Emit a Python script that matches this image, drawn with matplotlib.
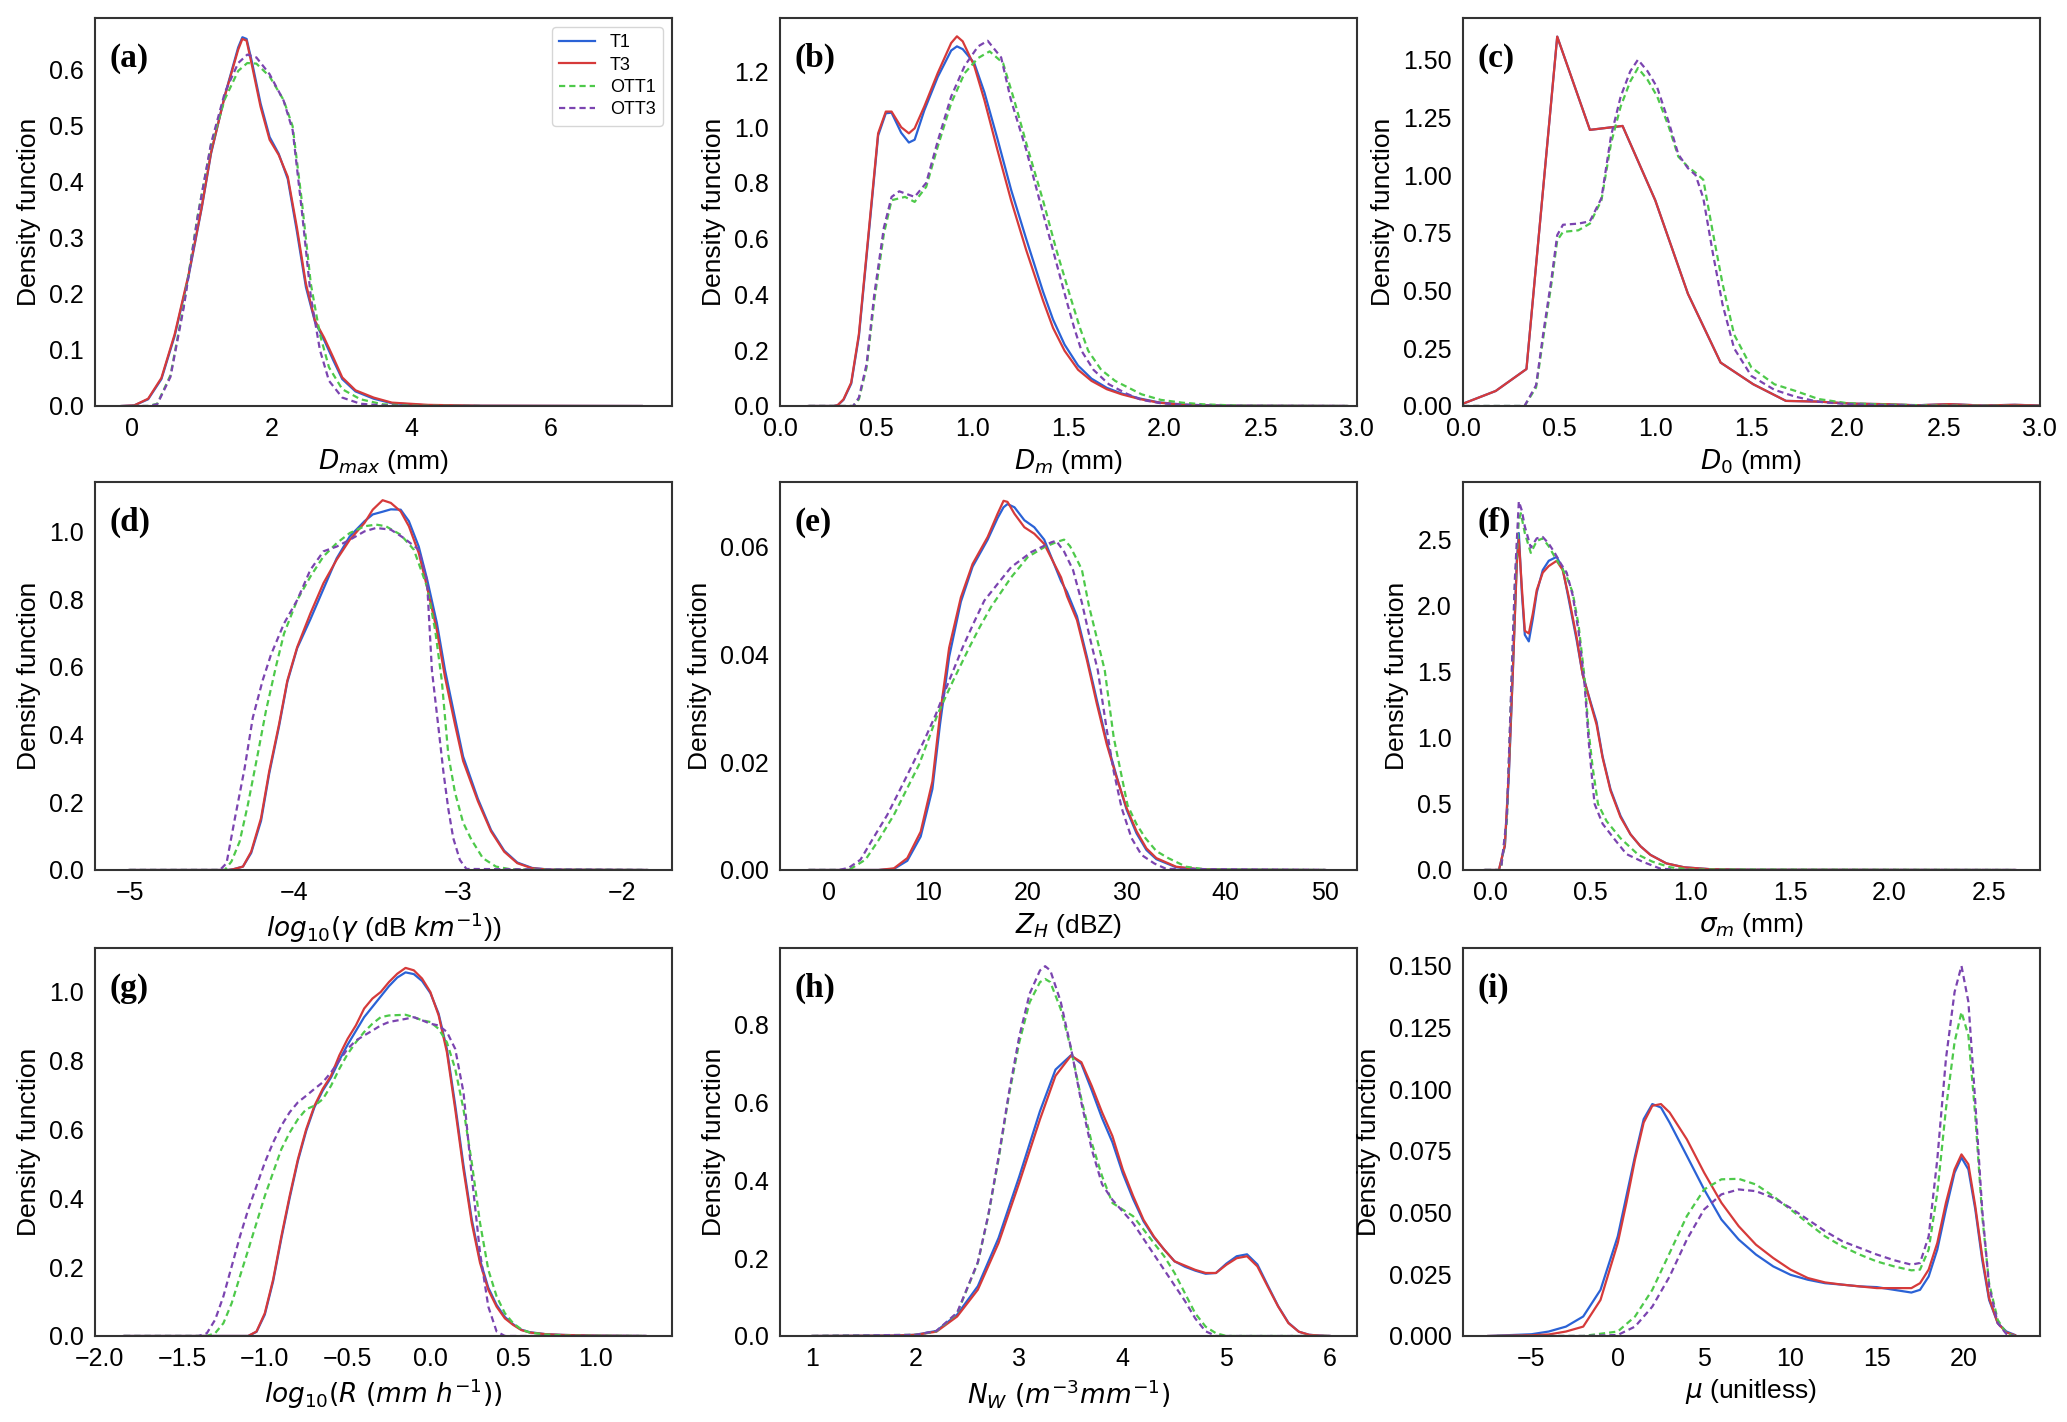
import matplotlib

matplotlib.use("Agg")  # no display here
import matplotlib.pyplot as plt

# ---- (a) Dmax ----
a_t_x = [-0.15, 0.03, 0.23, 0.42, 0.61, 0.81, 1.00, 1.13, 1.33, 1.52, 1.58, 1.64, 1.72, 1.84, 1.97, 2.10,
         2.23, 2.36, 2.49, 2.62, 2.75, 2.88, 3.01, 3.20, 3.46, 3.72, 4.24, 5.0, 7.3]
a_t1_y = [0.0, 0.001, 0.012, 0.048, 0.125, 0.232, 0.355, 0.450, 0.555, 0.640, 0.658, 0.655, 0.612, 0.540,
          0.480, 0.450, 0.405, 0.312, 0.212, 0.150, 0.118, 0.082, 0.048, 0.026, 0.013, 0.005, 0.001, 0.0004, 0.0]
a_t3_y = [0.0, 0.001, 0.013, 0.050, 0.128, 0.235, 0.357, 0.452, 0.554, 0.636, 0.655, 0.652, 0.606, 0.534,
          0.475, 0.448, 0.409, 0.319, 0.218, 0.152, 0.122, 0.087, 0.051, 0.028, 0.015, 0.006, 0.002, 0.0005, 0.0]
a_o_x = [0.0, 0.23, 0.36, 0.55, 0.74, 0.94, 1.13, 1.33, 1.52, 1.65, 1.78, 1.97, 2.17, 2.30, 2.43, 2.56, 2.69,
         2.82, 3.01, 3.27, 3.59, 4.0, 5.0]
a_ott1_y = [0.0, 0.0, 0.004, 0.055, 0.180, 0.340, 0.465, 0.548, 0.598, 0.612, 0.611, 0.588, 0.546, 0.499,
            0.367, 0.218, 0.128, 0.069, 0.030, 0.012, 0.003, 0.0005, 0.0]
a_ott3_y = [0.0, 0.0, 0.003, 0.052, 0.176, 0.338, 0.468, 0.560, 0.612, 0.627, 0.622, 0.592, 0.545, 0.492,
            0.350, 0.195, 0.100, 0.045, 0.015, 0.004, 0.001, 0.0, 0.0]

# ---- (b) Dm ----
b_t_x = [0.15, 0.28, 0.30, 0.33, 0.37, 0.41, 0.47, 0.51, 0.55, 0.58, 0.63, 0.67, 0.70, 0.75, 0.82, 0.89,
         0.92, 0.95, 1.01, 1.063, 1.13, 1.202, 1.28, 1.368, 1.42, 1.48, 1.55, 1.62, 1.70, 1.776, 1.87, 1.97,
         2.1, 2.3, 2.95]
b_t3_y = [0.0, 0.0, 0.003, 0.024, 0.084, 0.258, 0.69, 0.978, 1.056, 1.056, 1.0, 0.978, 0.996, 1.074, 1.194,
          1.302, 1.326, 1.308, 1.22, 1.097, 0.92, 0.737, 0.56, 0.378, 0.28, 0.198, 0.13, 0.09, 0.06, 0.042,
          0.025, 0.012, 0.004, 0.001, 0.0]
b_t1_y = [0.0, 0.0, 0.003, 0.022, 0.080, 0.250, 0.68, 0.97, 1.05, 1.052, 0.98, 0.945, 0.955, 1.06, 1.18,
          1.275, 1.29, 1.28, 1.23, 1.125, 0.96, 0.775, 0.60, 0.41, 0.31, 0.22, 0.145, 0.098, 0.065, 0.045,
          0.027, 0.013, 0.005, 0.001, 0.0]
b_ott1_x = [0.15, 0.38, 0.41, 0.45, 0.49, 0.54, 0.58, 0.65, 0.70, 0.76, 0.82, 0.89, 0.96, 1.03, 1.09, 1.16,
            1.218, 1.29, 1.368, 1.438, 1.516, 1.56, 1.603, 1.67, 1.743, 1.88, 1.98, 2.09, 2.2, 2.4, 2.95]
b_ott1_y = [0.0, 0.0, 0.024, 0.138, 0.378, 0.618, 0.738, 0.750, 0.732, 0.786, 0.93, 1.086, 1.194, 1.248,
            1.272, 1.23, 1.097, 0.92, 0.737, 0.558, 0.378, 0.28, 0.198, 0.13, 0.09, 0.042, 0.022, 0.012,
            0.006, 0.001, 0.0]
b_ott3_x = [0.15, 0.38, 0.41, 0.45, 0.49, 0.54, 0.58, 0.62, 0.70, 0.76, 0.82, 0.89, 0.96, 1.03, 1.08, 1.15,
            1.20, 1.28, 1.35, 1.42, 1.49, 1.53, 1.568, 1.63, 1.71, 1.80, 1.88, 1.98, 2.1, 2.3, 2.95]
b_ott3_y = [0.0, 0.0, 0.03, 0.15, 0.40, 0.64, 0.75, 0.77, 0.75, 0.80, 0.95, 1.11, 1.22, 1.29, 1.31, 1.25,
            1.10, 0.92, 0.737, 0.558, 0.378, 0.28, 0.198, 0.13, 0.078, 0.045, 0.022, 0.01, 0.004, 0.001, 0.0]

# ---- (c) D0 ----
c_t_x = [0.0, 0.17, 0.33, 0.49, 0.66, 0.83, 1.00, 1.17, 1.34, 1.51, 1.68, 1.85, 2.02, 2.19, 2.36, 2.53,
         2.70, 2.87, 3.0]
c_t1_y = [0.01, 0.065, 0.16, 1.60, 1.196, 1.213, 0.891, 0.486, 0.188, 0.094, 0.022, 0.019, 0.010, 0.008,
          0.003, 0.008, 0.002, 0.005, 0.002]
c_t3_y = [0.01, 0.065, 0.16, 1.60, 1.196, 1.213, 0.891, 0.486, 0.188, 0.094, 0.022, 0.019, 0.010, 0.008,
          0.003, 0.008, 0.002, 0.005, 0.002]
c_o_x = [0.0, 0.32, 0.38, 0.42, 0.46, 0.49, 0.52, 0.60, 0.66, 0.72, 0.77, 0.82, 0.87, 0.91, 0.96, 1.01,
         1.07, 1.12, 1.17, 1.21, 1.25, 1.30, 1.35, 1.41, 1.50, 1.62, 1.73, 1.85, 2.0, 2.2, 2.5, 3.0]
c_ott1_y = [0.0, 0.0, 0.08, 0.31, 0.53, 0.717, 0.754, 0.761, 0.79, 0.891, 1.138, 1.297, 1.406, 1.464, 1.413,
            1.341, 1.21, 1.08, 1.036, 1.01, 0.98, 0.75, 0.53, 0.31, 0.167, 0.094, 0.065, 0.03, 0.012, 0.006,
            0.002, 0.0]
c_ott3_y = [0.0, 0.0, 0.09, 0.33, 0.55, 0.74, 0.785, 0.79, 0.80, 0.90, 1.17, 1.34, 1.45, 1.50, 1.45, 1.38,
            1.23, 1.09, 1.03, 1.00, 0.90, 0.66, 0.44, 0.25, 0.13, 0.07, 0.04, 0.018, 0.008, 0.004, 0.001, 0.0]

# ---- (d) log10(gamma) ----
d_t_x = [-5.0, -4.40, -4.37, -4.31, -4.26, -4.20, -4.15, -4.09, -4.04, -3.98, -3.90, -3.82, -3.74, -3.66,
         -3.57, -3.52, -3.46, -3.41, -3.35, -3.30, -3.24, -3.19, -3.13, -3.08, -3.02, -2.97, -2.88, -2.80,
         -2.72, -2.64, -2.55, -2.44, -1.85]
d_t1_y = [0.0, 0.0, 0.002, 0.01, 0.05, 0.145, 0.285, 0.425, 0.555, 0.655, 0.74, 0.83, 0.92, 0.985, 1.03,
          1.05, 1.058, 1.065, 1.064, 1.03, 0.955, 0.86, 0.73, 0.59, 0.45, 0.335, 0.21, 0.118, 0.057, 0.022,
          0.006, 0.001, 0.0]
d_t3_y = [0.0, 0.0, 0.002, 0.01, 0.054, 0.153, 0.292, 0.431, 0.559, 0.658, 0.757, 0.847, 0.916, 0.975,
          1.025, 1.064, 1.092, 1.084, 1.059, 1.015, 0.936, 0.837, 0.708, 0.569, 0.431, 0.322, 0.203, 0.114,
          0.054, 0.02, 0.005, 0.001, 0.0]
d_ott1_x = [-5.0, -4.42, -4.38, -4.33, -4.28, -4.22, -4.17, -4.11, -4.06, -3.98, -3.90, -3.82, -3.74, -3.66,
            -3.57, -3.50, -3.44, -3.35, -3.27, -3.19, -3.14, -3.10, -3.06, -3.02, -2.97, -2.92, -2.85, -2.77,
            -2.68, -1.85]
d_ott1_y = [0.0, 0.0, 0.025, 0.084, 0.193, 0.342, 0.47, 0.599, 0.698, 0.797, 0.866, 0.926, 0.965, 0.995,
            1.015, 1.02, 1.015, 0.99, 0.946, 0.837, 0.708, 0.56, 0.34, 0.23, 0.14, 0.09, 0.035, 0.01, 0.002, 0.0]
d_ott3_x = [-5.0, -4.45, -4.41, -4.36, -4.30, -4.25, -4.19, -4.14, -4.06, -3.98, -3.90, -3.82, -3.74, -3.66,
            -3.57, -3.50, -3.41, -3.33, -3.24, -3.19, -3.16, -3.12, -3.09, -3.06, -3.03, -2.99, -2.95, -1.85]
d_ott3_y = [0.0, 0.0, 0.02, 0.15, 0.30, 0.45, 0.56, 0.635, 0.728, 0.797, 0.886, 0.941, 0.955, 0.975, 1.0,
            1.01, 1.005, 0.98, 0.946, 0.856, 0.59, 0.42, 0.29, 0.18, 0.094, 0.03, 0.003, 0.0]

# ---- (e) ZH ----
e_t_x = [-2, 5, 6.55, 7.9, 9.25, 10.43, 11.2, 12.12, 13.3, 14.48, 16.0, 17.0, 17.6, 18.0, 18.7, 19.7, 20.7,
         21.7, 23.4, 24, 25, 26, 27, 28, 29, 30, 31, 32, 33, 35, 37, 40, 50]
e_t1_y = [0, 0, 0.0002, 0.0017, 0.0062, 0.015, 0.027, 0.0395, 0.0497, 0.0562, 0.0612, 0.0652, 0.0672,
          0.0678, 0.0672, 0.0648, 0.0635, 0.0612, 0.0535, 0.0515, 0.047, 0.0395, 0.0315, 0.0238, 0.0173,
          0.0112, 0.0068, 0.0037, 0.002, 0.0005, 0.0002, 0.00005, 0]
e_t3_y = [0, 0, 0.0003, 0.0022, 0.0071, 0.0164, 0.0288, 0.0412, 0.0505, 0.0567, 0.0617, 0.066, 0.0684,
          0.0682, 0.066, 0.0635, 0.0623, 0.0604, 0.0542, 0.0507, 0.0463, 0.0389, 0.0308, 0.0233, 0.0171,
          0.0115, 0.0072, 0.004, 0.0022, 0.0006, 0.0002, 0.00005, 0]
e_ott1_x = [-2, 2.0, 3.68, 5.0, 6.55, 7.8, 9.08, 10.0, 10.94, 12.5, 14.14, 15.2, 16.33, 18.36, 20.05, 21.7,
            23.0, 23.7, 24.3, 25, 25.5, 26.2, 27, 27.8, 28.7, 29.4, 30.1, 31, 31.9, 33, 34.2, 36, 38, 50]
e_ott1_y = [0, 0, 0.0019, 0.0055, 0.0102, 0.0148, 0.0195, 0.024, 0.0288, 0.035, 0.0412, 0.045, 0.0487,
            0.0542, 0.058, 0.0598, 0.0608, 0.0612, 0.060, 0.0575, 0.0556, 0.049, 0.043, 0.037, 0.0246,
            0.0183, 0.012, 0.0085, 0.0059, 0.0035, 0.0022, 0.0006, 0.0001, 0]
e_ott3_x = [-2, 1, 2.0, 3.18, 4.5, 5.88, 7.2, 8.41, 9.6, 10.77, 12.1, 13.47, 14.6, 15.66, 17.0, 18.36, 20.4,
            22.4, 22.9, 23.7, 24.6, 25.5, 26.3, 27.1, 28.0, 28.7, 29.5, 30.5, 31.5, 32.8, 34, 50]
e_ott3_y = [0, 0, 0.0004, 0.0019, 0.006, 0.0102, 0.015, 0.0195, 0.024, 0.0288, 0.035, 0.0412, 0.0458,
            0.0499, 0.053, 0.0561, 0.0589, 0.0607, 0.061, 0.059, 0.0556, 0.0495, 0.043, 0.037, 0.026, 0.0183,
            0.0115, 0.0059, 0.0028, 0.0012, 0.0002, 0]

# ---- (f) sigma_m ----
f_t_x = [-0.03, 0.04, 0.07, 0.09, 0.11, 0.13, 0.14, 0.155, 0.17, 0.19, 0.21, 0.23, 0.26, 0.29, 0.33, 0.36,
         0.39, 0.43, 0.46, 0.50, 0.53, 0.56, 0.60, 0.65, 0.70, 0.75, 0.80, 0.88, 0.97, 1.1, 1.3, 2.63]
f_t1_y = [0, 0, 0.18, 0.72, 1.50, 2.35, 2.55, 2.10, 1.78, 1.73, 1.90, 2.10, 2.27, 2.34, 2.37, 2.28, 2.05,
          1.74, 1.48, 1.27, 1.12, 0.86, 0.61, 0.41, 0.27, 0.18, 0.115, 0.05, 0.02, 0.006, 0.002, 0]
f_t3_y = [0, 0, 0.19, 0.75, 1.51, 2.32, 2.50, 2.14, 1.81, 1.79, 1.94, 2.12, 2.25, 2.30, 2.34, 2.27, 2.07,
          1.76, 1.48, 1.26, 1.10, 0.85, 0.60, 0.40, 0.27, 0.18, 0.114, 0.05, 0.02, 0.006, 0.002, 0]
f_ott1_x = [-0.03, 0.05, 0.08, 0.10, 0.12, 0.14, 0.15, 0.17, 0.20, 0.23, 0.26, 0.29, 0.32, 0.35, 0.38, 0.41,
            0.44, 0.47, 0.49, 0.51, 0.537, 0.58, 0.65, 0.74, 0.81, 0.90, 1.0, 2.63]
f_ott1_y = [0, 0, 0.37, 1.26, 2.14, 2.65, 2.70, 2.55, 2.40, 2.49, 2.51, 2.45, 2.37, 2.30, 2.22, 2.10, 1.85,
            1.45, 1.05, 0.78, 0.50, 0.37, 0.24, 0.114, 0.063, 0.02, 0.004, 0]
f_ott3_x = [-0.03, 0.05, 0.08, 0.10, 0.12, 0.14, 0.155, 0.17, 0.20, 0.23, 0.26, 0.29, 0.32, 0.35, 0.38, 0.41,
            0.44, 0.47, 0.49, 0.51, 0.52, 0.56, 0.616, 0.68, 0.76, 0.85, 0.95, 2.63]
f_ott3_y = [0, 0, 0.40, 1.30, 2.20, 2.79, 2.72, 2.60, 2.44, 2.51, 2.52, 2.47, 2.40, 2.32, 2.25, 2.08, 1.80,
            1.40, 0.98, 0.65, 0.50, 0.35, 0.24, 0.12, 0.063, 0.01, 0.0, 0]

# ---- (g) log10(R) ----
g_t_x = [-1.85, -1.10, -1.05, -1.00, -0.95, -0.90, -0.85, -0.80, -0.75, -0.70, -0.65, -0.60, -0.55, -0.50,
         -0.45, -0.40, -0.35, -0.30, -0.25, -0.20, -0.15, -0.10, -0.05, 0.0, 0.05, 0.10, 0.15, 0.20, 0.25,
         0.30, 0.35, 0.40, 0.45, 0.50, 0.55, 0.60, 0.70, 0.80, 1.0, 1.3]
g_t1_y = [0.0, 0.0, 0.012, 0.062, 0.158, 0.283, 0.400, 0.508, 0.595, 0.664, 0.712, 0.750, 0.800, 0.845,
          0.885, 0.925, 0.955, 0.985, 1.015, 1.040, 1.055, 1.050, 1.030, 0.995, 0.935, 0.832, 0.670, 0.495,
          0.338, 0.220, 0.140, 0.090, 0.055, 0.034, 0.018, 0.011, 0.005, 0.003, 0.001, 0.0]
g_t3_y = [0.0, 0.0, 0.013, 0.066, 0.163, 0.289, 0.406, 0.513, 0.600, 0.668, 0.717, 0.755, 0.814, 0.862,
          0.901, 0.950, 0.979, 0.998, 1.027, 1.051, 1.068, 1.061, 1.037, 0.998, 0.930, 0.823, 0.658, 0.483,
          0.328, 0.212, 0.134, 0.085, 0.051, 0.032, 0.017, 0.010, 0.005, 0.003, 0.001, 0.0]
g_o_x = [-1.85, -1.40, -1.35, -1.30, -1.25, -1.20, -1.15, -1.10, -1.05, -1.00, -0.95, -0.90, -0.85, -0.80,
         -0.75, -0.70, -0.65, -0.60, -0.55, -0.50, -0.45, -0.40, -0.35, -0.30, -0.25, -0.15, -0.10, -0.05,
         0.0, 0.05, 0.10, 0.15, 0.20, 0.25, 0.30, 0.35, 0.40, 0.45, 0.50, 0.55, 0.60, 0.70, 0.85, 1.3]
g_ott1_y = [0.0, 0.0, 0.0, 0.008, 0.037, 0.095, 0.173, 0.250, 0.328, 0.406, 0.474, 0.542, 0.590, 0.629,
            0.658, 0.668, 0.687, 0.726, 0.775, 0.818, 0.852, 0.882, 0.906, 0.925, 0.930, 0.932, 0.925, 0.916,
            0.911, 0.891, 0.852, 0.775, 0.658, 0.503, 0.328, 0.192, 0.115, 0.066, 0.037, 0.019, 0.010, 0.004,
            0.001, 0.0]
g_ott3_y = [0.0, 0.0, 0.008, 0.047, 0.115, 0.202, 0.289, 0.367, 0.435, 0.503, 0.561, 0.610, 0.649, 0.678,
            0.697, 0.717, 0.736, 0.765, 0.799, 0.833, 0.857, 0.872, 0.886, 0.901, 0.911, 0.920, 0.925, 0.916,
            0.906, 0.901, 0.882, 0.833, 0.707, 0.464, 0.241, 0.085, 0.013, 0.0, 0.0, 0.0, 0.0, 0.0, 0.0, 0.0]

# ---- (h) Nw ----
h_t_x = [1.0, 1.8, 2.0, 2.2, 2.4, 2.6, 2.8, 3.0, 3.2, 3.35, 3.5, 3.6, 3.7, 3.8, 3.9, 4.0, 4.1, 4.2, 4.3, 4.4,
         4.5, 4.6, 4.7, 4.8, 4.9, 5.0, 5.1, 5.2, 5.3, 5.4, 5.5, 5.6, 5.7, 5.8, 5.9, 6.0]
h_t1_y = [0.0, 0.001, 0.003, 0.013, 0.055, 0.128, 0.252, 0.410, 0.578, 0.685, 0.722, 0.700, 0.632, 0.560,
          0.498, 0.418, 0.352, 0.295, 0.254, 0.222, 0.192, 0.178, 0.168, 0.160, 0.162, 0.186, 0.205, 0.210,
          0.184, 0.130, 0.077, 0.034, 0.011, 0.003, 0.001, 0.0]
h_t3_y = [0.0, 0.001, 0.003, 0.011, 0.050, 0.119, 0.239, 0.394, 0.557, 0.669, 0.721, 0.704, 0.643, 0.575,
          0.514, 0.428, 0.360, 0.299, 0.256, 0.222, 0.192, 0.181, 0.170, 0.162, 0.162, 0.183, 0.200, 0.205,
          0.179, 0.127, 0.076, 0.033, 0.011, 0.003, 0.001, 0.0]
h_o_x = [1.0, 2.0, 2.2, 2.4, 2.6, 2.7, 2.8, 2.9, 3.0, 3.1, 3.2, 3.25, 3.3, 3.4, 3.5, 3.6, 3.7, 3.8, 3.9, 4.0,
         4.1, 4.2, 4.3, 4.4, 4.5, 4.6, 4.7, 4.8, 4.9, 5.0, 6.0]
h_ott1_y = [0.0, 0.003, 0.012, 0.058, 0.188, 0.308, 0.454, 0.618, 0.755, 0.858, 0.910, 0.918, 0.910, 0.841,
            0.738, 0.609, 0.497, 0.411, 0.342, 0.325, 0.308, 0.274, 0.239, 0.205, 0.162, 0.110, 0.058, 0.024,
            0.007, 0.0, 0.0]
h_ott3_y = [0.0, 0.003, 0.013, 0.060, 0.190, 0.310, 0.460, 0.625, 0.770, 0.880, 0.940, 0.951, 0.940, 0.860,
            0.740, 0.600, 0.480, 0.390, 0.350, 0.320, 0.290, 0.250, 0.210, 0.170, 0.130, 0.090, 0.045, 0.012,
            0.0, 0.0, 0.0]

# ---- (i) mu ----
i_t_x = [-7.5, -5, -4, -3, -2, -1, 0, 0.5, 1, 1.5, 2, 2.5, 3, 4, 5, 6, 7, 8, 9, 10, 11, 12, 13, 14, 15, 16,
         17, 17.5, 18, 18.5, 19, 19.5, 19.9, 20.3, 20.7, 21.1, 21.5, 22, 22.5, 23]
i_t1_y = [0.0, 0.0007, 0.0018, 0.0038, 0.0079, 0.0187, 0.0404, 0.0567, 0.073, 0.0879, 0.094, 0.0926,
          0.0865, 0.073, 0.0594, 0.0472, 0.0391, 0.033, 0.0282, 0.0248, 0.0228, 0.0214, 0.0208, 0.0201,
          0.0198, 0.0187, 0.0176, 0.0187, 0.0241, 0.035, 0.0513, 0.0662, 0.0723, 0.0675, 0.0513, 0.0309,
          0.0146, 0.0052, 0.0018, 0.0004]
i_t3_y = [0.0, 0.0003, 0.0006, 0.0018, 0.0038, 0.0146, 0.0377, 0.054, 0.0716, 0.0865, 0.0933, 0.094,
          0.0906, 0.0797, 0.0662, 0.054, 0.0445, 0.037, 0.0316, 0.0269, 0.0235, 0.0217, 0.0208, 0.0201,
          0.0194, 0.0194, 0.0194, 0.0214, 0.0269, 0.0377, 0.054, 0.0675, 0.0736, 0.0696, 0.0526, 0.0323,
          0.0153, 0.0052, 0.0014, 0.0003]
i_o_x = [-7, -2, 0, 1, 2, 3, 4, 5, 6, 7, 8, 9, 10, 11, 12, 13, 14, 15, 16, 17, 17.5, 18, 18.5, 19, 19.5,
         19.9, 20.3, 20.7, 21.1, 21.5, 22, 22.5, 23]
i_ott1_y = [0.0, 0.0, 0.0018, 0.0079, 0.0187, 0.0336, 0.0486, 0.0594, 0.0635, 0.0637, 0.0614, 0.0567,
            0.0513, 0.0458, 0.0404, 0.0363, 0.033, 0.0302, 0.0282, 0.0266, 0.0269, 0.035, 0.058, 0.092,
            0.1191, 0.1313, 0.1218, 0.0892, 0.0486, 0.0214, 0.0065, 0.0011, 0.0]
i_ott3_y = [0.0, 0.0, 0.0004, 0.0038, 0.0119, 0.0241, 0.0391, 0.0513, 0.0574, 0.0594, 0.0587, 0.056,
            0.0519, 0.0472, 0.0425, 0.0384, 0.0357, 0.033, 0.0307, 0.0289, 0.0296, 0.0404, 0.0716, 0.1123,
            0.1394, 0.150, 0.1354, 0.0947, 0.0513, 0.0201, 0.0052, 0.0008, 0.0]

labels = ["T1", "T3", "OTT1", "OTT3"]
colors = ["#2a62d6", "#d63a3a", "#4ec94a", "#7b44b0"]
styles = ["-", "-", "--", "--"]

panels = [
    ("(a)", [(a_t_x, a_t1_y), (a_t_x, a_t3_y), (a_o_x, a_ott1_y), (a_o_x, a_ott3_y)],
     (-0.53, 7.73), 0.6925, [0, 2, 4, 6], [0, 0.1, 0.2, 0.3, 0.4, 0.5, 0.6], r"$D_{max}$ (mm)"),
    ("(b)", [(b_t_x, b_t1_y), (b_t_x, b_t3_y), (b_ott1_x, b_ott1_y), (b_ott3_x, b_ott3_y)],
     (0, 3), 1.392, [0, 0.5, 1.0, 1.5, 2.0, 2.5, 3.0], [0, 0.2, 0.4, 0.6, 0.8, 1.0, 1.2], r"$D_m$ (mm)"),
    ("(c)", [(c_t_x, c_t1_y), (c_t_x, c_t3_y), (c_o_x, c_ott1_y), (c_o_x, c_ott3_y)],
     (0, 3), 1.681, [0, 0.5, 1.0, 1.5, 2.0, 2.5, 3.0], [0, 0.25, 0.5, 0.75, 1.0, 1.25, 1.5], r"$D_0$ (mm)"),
    ("(d)", [(d_t_x, d_t1_y), (d_t_x, d_t3_y), (d_ott1_x, d_ott1_y), (d_ott3_x, d_ott3_y)],
     (-5.21, -1.70), 1.146, [-5, -4, -3, -2], [0, 0.2, 0.4, 0.6, 0.8, 1.0],
     r"$log_{10}(\gamma\ $(dB $km^{-1}$))"),
    ("(e)", [(e_t_x, e_t1_y), (e_t_x, e_t3_y), (e_ott1_x, e_ott1_y), (e_ott3_x, e_ott3_y)],
     (-4.92, 53.2), 0.0719, [0, 10, 20, 30, 40, 50], [0, 0.02, 0.04, 0.06], r"$Z_H$ (dBZ)"),
    ("(f)", [(f_t_x, f_t1_y), (f_t_x, f_t3_y), (f_ott1_x, f_ott1_y), (f_ott3_x, f_ott3_y)],
     (-0.14, 2.753), 2.937, [0, 0.5, 1.0, 1.5, 2.0, 2.5], [0, 0.5, 1.0, 1.5, 2.0, 2.5], r"$\sigma_m$ (mm)"),
    ("(g)", [(g_t_x, g_t1_y), (g_t_x, g_t3_y), (g_o_x, g_ott1_y), (g_o_x, g_ott3_y)],
     (-2.025, 1.458), 1.126, [-2.0, -1.5, -1.0, -0.5, 0.0, 0.5, 1.0], [0, 0.2, 0.4, 0.6, 0.8, 1.0],
     r"$log_{10}(R\ (mm\ h^{-1}))$"),
    ("(h)", [(h_t_x, h_t1_y), (h_t_x, h_t3_y), (h_o_x, h_ott1_y), (h_o_x, h_ott3_y)],
     (0.69, 6.26), 0.998, [1, 2, 3, 4, 5, 6], [0, 0.2, 0.4, 0.6, 0.8], r"$N_W\ (m^{-3}mm^{-1})$"),
    ("(i)", [(i_t_x, i_t1_y), (i_t_x, i_t3_y), (i_o_x, i_ott1_y), (i_o_x, i_ott3_y)],
     (-8.96, 24.43), 0.1573, [-5, 0, 5, 10, 15, 20], [0, 0.025, 0.05, 0.075, 0.1, 0.125, 0.15],
     r"$\mu$ (unitless)"),
]

plt.rcParams["font.family"] = ["Liberation Sans Narrow", "Liberation Sans", "DejaVu Sans"]
plt.rcParams["mathtext.fontset"] = "custom"
plt.rcParams["mathtext.rm"] = "Liberation Sans Narrow"
plt.rcParams["mathtext.it"] = "Liberation Sans Narrow:italic"
plt.rcParams["axes.unicode_minus"] = True

fig = plt.figure(figsize=(20.67, 14.22), dpi=100)

col_left = [0.046, 0.3774, 0.7078]
row_bottom = [0.7145, 0.3882, 0.0605]
ax_w, ax_h = 0.279, 0.2729

for k, (tag, series, xlim, ytop, xticks, yticks, xlabel) in enumerate(panels):
    ax = fig.add_axes([col_left[k % 3], row_bottom[k // 3], ax_w, ax_h])
    for (xs, ys), lab, col, ls in zip(series, labels, colors, styles):
        if ls == "--":
            ax.plot(xs, ys, color=col, lw=1.6, ls=ls, dashes=(2.8, 1.8), label=lab)
        else:
            ax.plot(xs, ys, color=col, lw=1.6, ls=ls, label=lab)
    ax.set_xlim(*xlim)
    ax.set_ylim(0, ytop)
    ax.set_xticks(xticks)
    ax.set_yticks(yticks)
    ax.tick_params(length=0, labelsize=18, pad=8)
    for sp in ax.spines.values():
        sp.set_color("0.2")
        sp.set_linewidth(1.5)
    ax.set_xlabel(xlabel, fontsize=19, labelpad=4)
    ax.set_ylabel("Density function", fontsize=19, labelpad=6)
    ax.text(0.025, 0.895, tag, transform=ax.transAxes, ha="left", va="center",
            fontsize=24, fontweight="bold", family=["Liberation Serif", "DejaVu Serif"])
    if k == 0:
        ax.legend(loc="upper right", fontsize=13, frameon=True, edgecolor="0.8",
                  labelspacing=0.3, handlelength=2.0, borderaxespad=0.5)

fig.savefig("out.png", dpi=100)
plt.close(fig)
